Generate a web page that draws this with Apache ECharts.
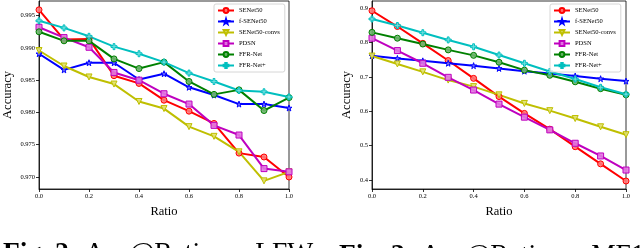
<!DOCTYPE html>
<html><head><meta charset="utf-8">
<script src="https://cdn.jsdelivr.net/npm/echarts@6/dist/echarts.min.js"></script>
<style>html,body{margin:0;padding:0;background:#fff}#c{width:640px;height:248px}</style>
</head><body><div id="c"></div>
<script>
const ratios = [0.0, 0.1, 0.2, 0.3, 0.4, 0.5, 0.6, 0.7, 0.8, 0.9, 1.0];
const seriesNames = ['SENet50', 'f-SENet50', 'SENet50-convs', 'PDSN', 'FFR-Net', 'FFR-Net+'];

// Fig. 2: LFW
const senet50_lfw = [0.9959, 0.9913, 0.9914, 0.9857, 0.9845, 0.9819, 0.9802, 0.9783, 0.9737, 0.9731, 0.9700];
const fsenet50_lfw = [0.9891, 0.9866, 0.9877, 0.9877, 0.9851, 0.9860, 0.9839, 0.9827, 0.9813, 0.9813, 0.9807];
const convs_lfw = [0.9896, 0.9872, 0.9855, 0.9844, 0.9817, 0.9806, 0.9778, 0.9763, 0.9739, 0.9694, 0.9708];
const pdsn_lfw = [0.9932, 0.9916, 0.9901, 0.9862, 0.9850, 0.9829, 0.9813, 0.9780, 0.9765, 0.9713, 0.9708];
const ffr_lfw = [0.9925, 0.9911, 0.9911, 0.9883, 0.9868, 0.9878, 0.9848, 0.9828, 0.9835, 0.9803, 0.9823];
const ffrplus_lfw = [0.9942, 0.9931, 0.9918, 0.9902, 0.9891, 0.9878, 0.9861, 0.9848, 0.9834, 0.9832, 0.9824];

// Fig. 3: MF1
const senet50_mf1 = [0.893, 0.847, 0.798, 0.748, 0.696, 0.643, 0.594, 0.548, 0.497, 0.447, 0.397];
const fsenet50_mf1 = [0.762, 0.754, 0.747, 0.740, 0.733, 0.725, 0.717, 0.710, 0.703, 0.695, 0.688];
const convs_mf1 = [0.761, 0.738, 0.715, 0.691, 0.672, 0.648, 0.623, 0.602, 0.579, 0.555, 0.532];
const pdsn_mf1 = [0.813, 0.777, 0.740, 0.699, 0.662, 0.621, 0.583, 0.546, 0.507, 0.470, 0.429];
const ffr_mf1 = [0.830, 0.813, 0.796, 0.779, 0.763, 0.743, 0.720, 0.705, 0.686, 0.666, 0.648];
const ffrplus_mf1 = [0.869, 0.850, 0.829, 0.808, 0.788, 0.764, 0.740, 0.716, 0.694, 0.670, 0.650];

const xTickLabels = ['0.0', '0.2', '0.4', '0.6', '0.8', '1.0'];
const captions = ['Acc@Ratio on LFW', 'Acc@Ratio on MF1'];
const figNums = ['Fig. 2:', 'Fig. 3:'];

const lfw = [senet50_lfw, fsenet50_lfw, convs_lfw, pdsn_lfw, ffr_lfw, ffrplus_lfw];
const mf1 = [senet50_mf1, fsenet50_mf1, convs_mf1, pdsn_mf1, ffr_mf1, ffrplus_mf1];

const colors = ['#ff0000', '#0000ff', '#bfbf00', '#bf00bf', '#008000', '#00bfbf'];
const fills = ['rgba(255,120,120,0.9)', 'rgba(120,120,255,0.9)', 'rgba(225,225,110,0.9)', 'rgba(225,120,225,0.9)', 'rgba(110,180,110,0.9)', 'rgba(120,225,225,0.9)'];
const STAR = 'path://M50,0 L61,35 L98,35 L68,57 L79,91 L50,70 L21,91 L32,57 L2,35 L39,35 Z';
const PLUS = 'path://M35,0H65V35H100V65H65V100H35V65H0V35H35Z';
const symbols = ['circle', STAR, 'triangle', 'rect', 'circle', PLUS];
const rotates = [0, 0, 180, 0, 0, 0];

const FONT = 'Liberation Serif';

function mkSeries(data, idx) {
  return data.map((vals, i) => ({
    name: seriesNames[i],
    type: 'line',
    xAxisIndex: idx, yAxisIndex: idx,
    data: ratios.map((r, k) => [r, vals[k]]),
    symbol: symbols[i],
    symbolRotate: rotates[i],
    symbolSize: 6,
    showAllSymbol: true,
    lineStyle: { color: colors[i], width: 2 },
    itemStyle: { color: fills[i], borderColor: colors[i], borderWidth: 1 },
    emphasis: { disabled: true },
    animation: false
  }));
}

function xAx(idx) {
  return {
    type: 'value', gridIndex: idx, min: 0, max: 1, interval: 0.2,
    name: 'Ratio', nameLocation: 'middle', nameGap: 13,
    nameTextStyle: { fontFamily: FONT, fontSize: 12.5, color: '#000' },
    axisLine: { show: true, lineStyle: { color: '#000', width: 0.8 } },
    axisTick: { show: true, length: 3, lineStyle: { color: '#000', width: 0.8 } },
    axisLabel: { fontFamily: FONT, fontSize: 6.5, color: '#000', margin: 4,
      formatter: v => xTickLabels[Math.round(v * 5)] },
    splitLine: { show: false }
  };
}
function yAx(idx, min, max, dec, gap) {
  return {
    type: 'value', gridIndex: idx, min: min, max: max, splitNumber: 5, scale: true,
    name: 'Accuracy', nameLocation: 'middle', nameGap: gap, nameRotate: 90,
    nameTextStyle: { fontFamily: FONT, fontSize: 12.5, color: '#000' },
    axisLine: { show: true, lineStyle: { color: '#000', width: 0.8 } },
    axisTick: { show: true, length: 3, lineStyle: { color: '#000', width: 0.8 } },
    axisLabel: { fontFamily: FONT, fontSize: 6.5, color: '#000', margin: 4,
      showMinLabel: false, showMaxLabel: false,
      formatter: v => v.toFixed(dec) },
    splitLine: { show: false }
  };
}
function legend(left) {
  return {
    data: seriesNames, orient: 'vertical', left: left, top: 4,
    padding: [3, 5, 3, 3], itemGap: 4, itemWidth: 16, itemHeight: 6,
    backgroundColor: 'rgba(255,255,255,0.8)', borderColor: '#cccccc', borderWidth: 0.8, borderRadius: 2,
    textStyle: { fontFamily: FONT, fontSize: 6.5, color: '#000', padding: [0, 0, 0, 0] },
    selectedMode: false
  };
}
function caption(x, y, i) {
  return {
    type: 'text', left: x, top: y,
    style: {
      text: '{b|' + figNums[i] + '} ' + captions[i],
      fontFamily: FONT, fontSize: 27.5, fill: '#000',
      rich: { b: { fontFamily: FONT, fontSize: 27.5, fontWeight: 'bold', fill: '#000' } }
    }
  };
}

const chart = echarts.init(document.getElementById('c'), null, { renderer: 'canvas' });
chart.setOption({
  animation: false,
  backgroundColor: '#fff',
  grid: [
    { left: 35, top: 1, width: 254, height: 188, show: true, borderColor: '#000', borderWidth: 0.8, backgroundColor: 'transparent' },
    { left: 372, top: 1, width: 254, height: 188, show: true, borderColor: '#000', borderWidth: 0.8, backgroundColor: 'transparent' }
  ],
  xAxis: [xAx(0), xAx(1)],
  yAxis: [yAx(0, 0.96814, 0.99727, 3, 25), yAx(1, 0.37378, 0.92136, 1, 19)],
  legend: [legend(214), legend(550)],
  series: mkSeries(lfw, 0).concat(mkSeries(mf1, 1)),
  graphic: [caption(3, 239.5, 0), caption(339, 241.5, 1)]
});
</script></body></html>
